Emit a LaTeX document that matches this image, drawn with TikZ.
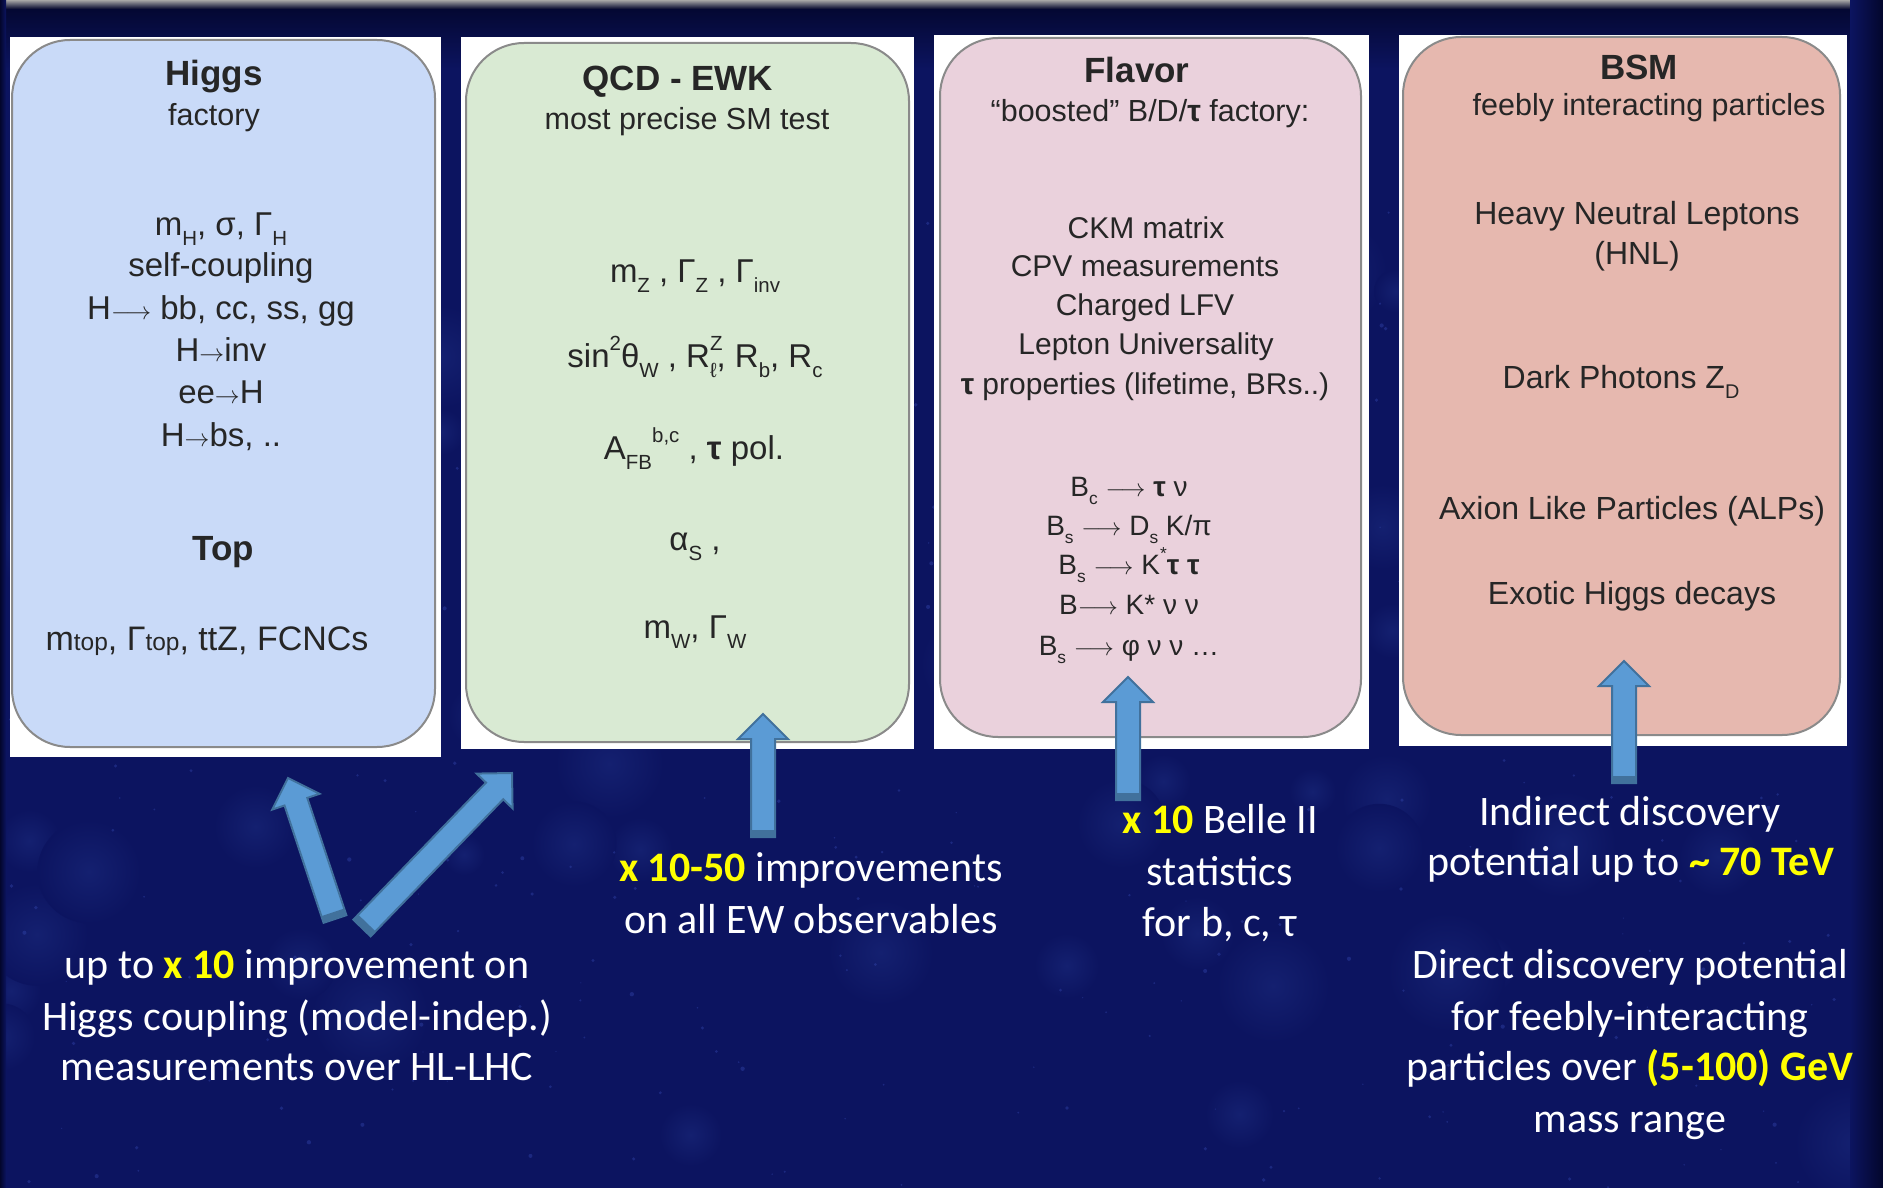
\documentclass[tikz,border=0pt]{standalone}
\usepackage{fontspec}
\setmainfont{Liberation Sans}
\newfontfamily\calfont{Carlito}
\usetikzlibrary{calc}
\definecolor{bgnavy}{HTML}{0C1460}
\definecolor{topdark}{HTML}{03062C}
\definecolor{starblue}{HTML}{3448B0}
\definecolor{blobblue}{HTML}{142070}
\definecolor{ink}{HTML}{262626}
\definecolor{hbl}{HTML}{C9DAF8}
\definecolor{qgr}{HTML}{D9EAD3}
\definecolor{fpk}{HTML}{EAD1DC}
\definecolor{bsmc}{HTML}{E6B8AF}
\definecolor{cardline}{HTML}{8A8A8A}
\definecolor{arrfill}{HTML}{5B9BD5}
\definecolor{arrline}{HTML}{41719C}
\definecolor{hiyel}{HTML}{FFFF00}
\newcommand\subx[1]{\raisebox{-0.6ex}{\scalebox{0.62}{#1}}}
\newcommand\supx[1]{\raisebox{0.95ex}{\scalebox{0.62}{#1}}}
\newcommand\supsubx[2]{\rlap{\supx{#1}}\subx{#2}}
\newcommand\yb[1]{{\color{hiyel}\bfseries #1}}
\newcommand\blockarrow[2]{%
  \filldraw[arrbody] let \p1=($(#2)-(#1)$), \n1={atan2(\y1,\x1)} in
    ($(#1)+({\n1+90}:12pt)$) --
    ($(#2)+({\n1+180}:25pt)+({\n1+90}:12pt)$) --
    ($(#2)+({\n1+180}:25pt)+({\n1+90}:25pt)$) --
    (#2) --
    ($(#2)+({\n1+180}:25pt)+({\n1-90}:25pt)$) --
    ($(#2)+({\n1+180}:25pt)+({\n1-90}:12pt)$) --
    ($(#1)+({\n1-90}:12pt)$) -- cycle;
  \fill[arrline] let \p1=($(#2)-(#1)$), \n1={atan2(\y1,\x1)} in
    ($(#1)+({\n1+90}:12pt)$) -- ($(#1)+({\n1+90}:12pt)+(\n1:7pt)$) --
    ($(#1)+({\n1-90}:12pt)+(\n1:7pt)$) -- ($(#1)+({\n1-90}:12pt)$) -- cycle;
}
\begin{document}
\begin{tikzpicture}[x=1pt,y=-1pt,
  panel/.style={rectangle, fill=white, inner sep=0pt, outer sep=0pt},
  card/.style={rectangle, draw=cardline, line width=2pt, rounded corners=58pt, inner sep=0pt},
  ttl/.style={anchor=base, inner sep=0pt, text=ink, font=\fontsize{35}{40}\selectfont\bfseries},
  subt/.style={anchor=base, inner sep=0pt, text=ink, font=\fontsize{30.5}{36}\selectfont},
  bdy/.style={anchor=base, inner sep=0pt, text=ink, font=\fontsize{33}{38}\selectfont},
  flv/.style={anchor=base, inner sep=0pt, text=ink, font=\fontsize{30}{36}\selectfont},
  dec/.style={anchor=base, inner sep=0pt, text=ink, font=\fontsize{28}{32}\selectfont},
  bsm/.style={anchor=base, inner sep=0pt, text=ink, font=\fontsize{32}{38}\selectfont},
  lowt/.style={anchor=base, inner sep=0pt, text=white, font=\calfont\fontsize{42}{50}\selectfont},
  arrbody/.style={fill=arrfill, draw=arrline, line width=2pt, line join=miter}]
\useasboundingbox (0,0) rectangle (1883,1188);
% background
\fill[bgnavy] (0,0) rectangle (1883,1188);
\pgfmathsetseed{11}
\foreach \i in {1,...,70}{
  \pgfmathsetmacro\xx{rnd*1883}\pgfmathsetmacro\yy{110+rnd*1060}\pgfmathsetmacro\rr{20+rnd*40}
  \shade[inner color=blobblue, outer color=bgnavy] (\xx,\yy) circle (\rr pt);
}
\foreach \i in {1,...,500}{
  \pgfmathsetmacro\xx{rnd*1883}\pgfmathsetmacro\yy{rnd*1188}\pgfmathsetmacro\rr{0.6+rnd*1.6}
  \fill[starblue, opacity=0.4] (\xx,\yy) circle (\rr pt);
}
\shade[top color=topdark, bottom color=bgnavy] (0,0) rectangle (1883,70);
\shade[top color=black!35!white, bottom color=topdark] (0,0) rectangle (1883,9);
\shade[left color=bgnavy, right color=topdark] (1850,0) rectangle (1883,1188);
\shade[left color=topdark, right color=bgnavy] (0,0) rectangle (6,1188);
% panels
\node[panel, minimum width=431pt, minimum height=720pt] (hW) at (225.5,397) {};
\node[panel, minimum width=453pt, minimum height=712pt] (qW) at (687.5,393) {};
\node[panel, minimum width=435pt, minimum height=714pt] (fW) at (1151.5,392) {};
\node[panel, minimum width=448pt, minimum height=711pt] (bW) at (1623,390.5) {};
\node[card, fill=hbl, minimum width=423pt, minimum height=707pt] (higgs) at (223.5,393.5) {};
\node[card, fill=qgr, minimum width=443pt, minimum height=699pt] (qcd) at (687.5,392.5) {};
\node[card, fill=fpk, minimum width=421pt, minimum height=699pt] (flav) at (1150.5,387.5) {};
\node[card, fill=bsmc, minimum width=437pt, minimum height=698pt] (bsmb) at (1621.5,386) {};
% Higgs
\node[ttl] (hT) at (214,86) {Higgs};
\node[subt] (hS) at (214,126) {factory};
\node[bdy] (h1) at (221,235) {m\subx{H}, σ, Γ\subx{H}};
\node[bdy] (h2) at (221,276) {self-coupling};
\node[bdy] (h3) at (221,319) {H$\longrightarrow$ bb, cc, ss, gg};
\node[bdy] (h4) at (221,361) {H$\rightarrow$inv};
\node[bdy] (h5) at (221,403) {ee$\rightarrow$H};
\node[bdy] (h6) at (221,446) {H$\rightarrow$bs, ..};
\node[ttl] (hT2) at (223,560) {Top};
\node[bdy] (h7) at (207,650) {\fontsize{34}{38}\selectfont m\scalebox{0.72}{top}, Γ\scalebox{0.72}{top}, ttZ, FCNCs};
% QCD
\node[ttl] (qT) at (678,91) {QCD - EWK};
\node[subt] (qS) at (687,130) {most precise SM test};
\node[bdy] (q1) at (695,282) {m\subx{Z} , Γ\subx{Z} , Γ\subx{inv}};
\node[bdy] (q2) at (695,367) {sin\supx{2}θ\subx{W} , R\supsubx{Z}{ℓ}, R\subx{b}, R\subx{c}};
\node[bdy] (q3) at (694,459) {A\subx{FB}\supx{b,c} , \textbf{τ} pol.};
\node[bdy] (q4) at (695,550) {α\subx{S} ,};
\node[bdy] (q5) at (695,638) {m\subx{W}, Γ\subx{W}};
% Flavor
\node[ttl] (fT) at (1137,83) {Flavor};
\node[subt] (fS) at (1150,122) {“boosted” B/D/\textbf{τ} factory:};
\node[flv] (f1) at (1146,238) {CKM matrix};
\node[flv] (f2) at (1145,276) {CPV measurements};
\node[flv] (f3) at (1145,315) {Charged LFV};
\node[flv] (f4) at (1146,354) {Lepton Universality};
\node[flv] (f5) at (1145,394) {\textbf{τ} properties (lifetime, BRs..)};
\node[dec] (d1) at (1129,496) {B\subx{c} $\longrightarrow$ \textbf{τ} ν};
\node[dec] (d2) at (1129,535) {B\subx{s} $\longrightarrow$ D\subx{s} K/π};
\node[dec] (d3) at (1129,574) {B\subx{s} $\longrightarrow$ K\supx{*}\textbf{τ τ}};
\node[dec] (d4) at (1129,614) {B$\longrightarrow$ K* ν ν};
\node[dec] (d5) at (1129,655) {B\subx{s} $\longrightarrow$ φ ν ν …};
% BSM
\node[ttl] (bT) at (1639,80) {BSM};
\node[subt] (bS) at (1649,116) {feebly interacting particles};
\node[bsm] (b1) at (1637,224) {Heavy Neutral Leptons};
\node[bsm] (b2) at (1637,264) {(HNL)};
\node[bsm] (b3) at (1621,388) {Dark Photons Z\subx{D}};
\node[bsm] (b4) at (1632,519) {Axion Like Particles (ALPs)};
\node[bsm] (b5) at (1632,604) {Exotic Higgs decays};
% arrows
\coordinate (aHt) at (335,919); \coordinate (aHh) at (288,778);
\coordinate (aQt) at (362,928); \coordinate (aQh) at (512,773);
\coordinate (aEt) at (763,837); \coordinate (aEh) at (763,714);
\coordinate (aFt) at (1128,800); \coordinate (aFh) at (1128,677);
\coordinate (aBt) at (1624,783); \coordinate (aBh) at (1624,661);
\blockarrow{aHt}{aHh}
\blockarrow{aQt}{aQh}
\blockarrow{aEt}{aEh}
\blockarrow{aFt}{aFh}
\blockarrow{aBt}{aBh}
% bottom texts
\node[lowt] (L1) at (297,978) {up to \yb{x 10} improvement on};
\node[lowt] (L2) at (297,1030) {Higgs coupling (model-indep.)};
\node[lowt] (L3) at (297,1080) {measurements over HL-LHC};
\node[lowt] (M1) at (811,881) {\yb{x 10-50} improvements};
\node[lowt] (M2) at (811,933) {on all EW observables};
\node[lowt] (F1) at (1220,833) {\yb{x 10} Belle II};
\node[lowt] (F2) at (1220,885) {statistics};
\node[lowt] (F3) at (1220,936) {for b, c, τ};
\node[lowt] (B1) at (1630,825) {Indirect discovery};
\node[lowt] (B2) at (1631,875) {potential up to \yb{\textasciitilde{} 70 TeV}};
\node[lowt] (B3) at (1630,978) {Direct discovery potential};
\node[lowt] (B4) at (1630,1030) {for feebly-interacting};
\node[lowt] (B5) at (1630,1080) {particles over \yb{(5-100) GeV}};
\node[lowt] (B6) at (1630,1132) {mass range};
\end{tikzpicture}
\end{document}
